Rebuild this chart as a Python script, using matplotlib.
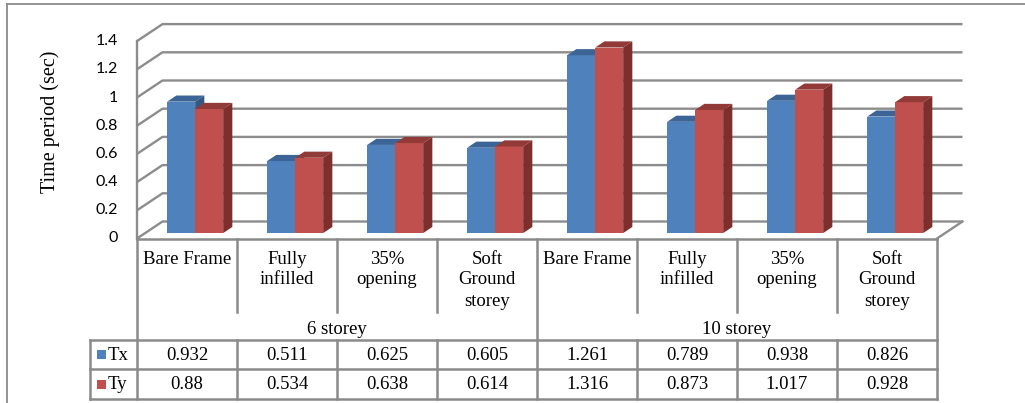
import matplotlib
matplotlib.use("Agg")
import matplotlib.pyplot as plt
from matplotlib.patches import Polygon, Rectangle
from matplotlib.transforms import blended_transform_factory

# ---------------- data ----------------
categories = ["Bare Frame", "Fully\ninfilled", "35%\nopening", "Soft\nGround\nstorey",
              "Bare Frame", "Fully\ninfilled", "35%\nopening", "Soft\nGround\nstorey"]
groups = ["6 storey", "10 storey"]
series_names = ["Tx", "Ty"]
tx = [0.932, 0.511, 0.625, 0.605, 1.261, 0.789, 0.938, 0.826]
ty = [0.88, 0.534, 0.638, 0.614, 1.316, 0.873, 1.017, 0.928]
yticks = [0, 0.2, 0.4, 0.6, 0.8, 1.0, 1.2, 1.4]
ytick_labels = ["0", "0.2", "0.4", "0.6", "0.8", "1", "1.2", "1.4"]
ylabel = "Time period (sec)"

# ---------------- style ----------------
front_cols = ["#4F81BD", "#C0504D"]
top_cols = ["#3C6497", "#923A37"]
side_cols = ["#345882", "#7C2F2D"]
grid_col = "#8C8C8C"
line_col = "#8A8A8A"
serif = ["Liberation Serif", "DejaVu Serif"]
sans = ["Lato", "DejaVu Sans"]

W, H = 1025, 403
fig = plt.figure(figsize=(W / 100, H / 100), dpi=100)
lay = fig.add_axes([0, 0, 1, 1])
lay.set_xlim(0, W)
lay.set_ylim(H, 0)
lay.axis("off")

x0, x1 = 137, 937
yb = 238.5
ppu = 141.0
ymax = 1.4
ax = fig.add_axes([x0 / W, (H - yb) / H, (x1 - x0) / W, ymax * ppu / H])
ncat = len(categories)
ax.set_xlim(0, ncat)
ax.set_ylim(0, ymax)
ax.axis("off")

DX = 0.255
DY = 17.0 / ppu

# outer border
lay.plot([7, W], [4, 4], color=line_col, lw=1.3)
lay.plot([7, 7], [4, H], color=line_col, lw=1.3)

# back wall gridlines + left wall diagonals
for v in yticks:
    ax.plot([0, DX, ncat + DX], [v, v + DY, v + DY], color=grid_col, lw=1.7,
            clip_on=False, zorder=1, solid_capstyle="butt")
# front vertical axis & floor
ax.plot([0, 0], [0, ymax], color=grid_col, lw=1.7, clip_on=False, zorder=1)
ax.plot([ncat, ncat + DX], [0, DY], color=grid_col, lw=1.7, clip_on=False, zorder=1)

# tick labels
for v, lab in zip(yticks, ytick_labels):
    ax.text(-0.19, v, lab, ha="right", va="center", fontsize=11.5, family=sans,
            color="#000000")

lay.text(50, 122, ylabel, rotation=90, ha="center", va="center", fontsize=14.5,
         family=serif)

# bars
bw = 0.28
f0, f1 = 0.32, 0.68
ox, oy = f0 * DX, f0 * DY
d, dd = (f1 - f0) * DX, (f1 - f0) * DY
series = [tx, ty]
z = 2
for i in range(ncat):
    for s, vals in enumerate(series):
        v = vals[i]
        left = i + 0.5 - bw + s * bw + ox
        ax.bar(left, v, width=bw, bottom=oy, align="edge", color=front_cols[s],
               edgecolor="none", zorder=z, clip_on=False)
        top = [(left, v + oy), (left + bw, v + oy), (left + bw + d, v + oy + dd),
               (left + d, v + oy + dd)]
        side = [(left + bw, oy), (left + bw, v + oy), (left + bw + d, v + oy + dd),
                (left + bw + d, oy + dd)]
        ax.add_patch(Polygon(top, closed=True, facecolor=top_cols[s],
                             edgecolor="none", zorder=z, clip_on=False))
        ax.add_patch(Polygon(side, closed=True, facecolor=side_cols[s],
                             edgecolor="none", zorder=z, clip_on=False))
        z += 0.01

# ---------------- data table ----------------
blend = blended_transform_factory(ax.transData, lay.transData)
tlw = 1.8
row_top = yb
cat_bottom = 312
grp_bottom = 340
r1_bottom = 369
r2_bottom = 399
leg_left = 90

# floor front edge / table top
lay.plot([0, ncat], [row_top, row_top], color=line_col, lw=tlw, transform=blend)
# vertical lines
n_per_group = ncat // len(groups)
for k in range(ncat + 1):
    if k % n_per_group == 0:
        lay.plot([k, k], [row_top, r2_bottom], color=line_col, lw=tlw, transform=blend)
    else:
        lay.plot([k, k], [row_top, cat_bottom], color=line_col, lw=tlw, transform=blend)
        lay.plot([k, k], [grp_bottom, r2_bottom], color=line_col, lw=tlw, transform=blend)
# horizontal lines
for yy in [grp_bottom, r1_bottom, r2_bottom]:
    lay.plot([leg_left, x1], [yy, yy], color=line_col, lw=tlw)
lay.plot([leg_left, leg_left], [grp_bottom, r2_bottom], color=line_col, lw=tlw)

fs = 13.5
for i, lab in enumerate(categories):
    for k, line in enumerate(lab.split("\n")):
        lay.text(i + 0.5, 259 + 21 * k, line, ha="center", va="center", fontsize=fs,
                 family=serif, transform=blend)
for g, name in enumerate(groups):
    lay.text(g * n_per_group + n_per_group / 2, 329, name, ha="center", va="center",
             fontsize=fs, family=serif, transform=blend)

row_centers = [(grp_bottom + r1_bottom) / 2, (r1_bottom + r2_bottom) / 2]
for s, vals in enumerate(series):
    yc = row_centers[s]
    for i, v in enumerate(vals):
        lay.text(i + 0.5, yc + 0.5, f"{v:g}", ha="center", va="center", fontsize=fs,
                 family=serif, transform=blend)
    lay.add_patch(Rectangle((97, yc - 4.5), 9, 9, facecolor=front_cols[s],
                            edgecolor="none"))
    lay.text(108, yc + 0.5, series_names[s], ha="left", va="center", fontsize=fs,
             family=serif)

fig.savefig("out.png", dpi=100)
